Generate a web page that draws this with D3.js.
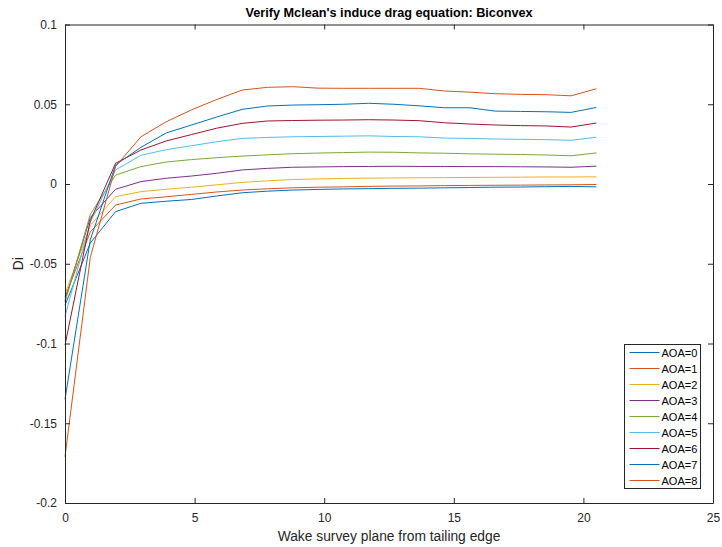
<!DOCTYPE html>
<html>
<head>
<meta charset="utf-8">
<script src="https://cdn.jsdelivr.net/npm/d3@7"></script>
<style>
  html, body { margin: 0; padding: 0; background: #fff; }
  svg { display: block; font-family: "Liberation Sans", Arial, sans-serif; }
</style>
</head>
<body>
<svg id="chart" width="722" height="547"></svg>
<script>
// Wake survey stations (distance behind trailing edge)
const xStations = [0, 0.976, 1.952, 2.929, 3.905, 4.881, 5.857, 6.833, 7.810, 8.786, 9.762,
  10.738, 11.714, 12.690, 13.667, 14.643, 15.619, 16.595, 17.571, 18.548, 19.524, 20.5];

const seriesNames = ["AOA=0", "AOA=1", "AOA=2", "AOA=3", "AOA=4", "AOA=5", "AOA=6", "AOA=7", "AOA=8"];

// Induced drag Di at each station, one array per angle of attack
const aoa0 = [-0.076, -0.037, -0.0173, -0.0121, -0.0108, -0.0097, -0.0075, -0.0055, -0.0045, -0.0038, -0.0034,
  -0.0031, -0.0029, -0.0027, -0.0026, -0.0024, -0.0022, -0.0020, -0.0019, -0.0017, -0.0015, -0.0018];
const aoa1 = [-0.071, -0.030, -0.0132, -0.0094, -0.0080, -0.0065, -0.0050, -0.0038, -0.0030, -0.0024, -0.0020,
  -0.0018, -0.0015, -0.0013, -0.0012, -0.0010, -0.0009, -0.0008, -0.0007, -0.0006, -0.0005, -0.0003];
const aoa2 = [-0.069, -0.026, -0.0079, -0.0048, -0.0033, -0.0020, -0.0005, 0.0010, 0.0020, 0.0028, 0.0032,
  0.0035, 0.0037, 0.0038, 0.0039, 0.0040, 0.0041, 0.0042, 0.0043, 0.0044, 0.0044, 0.0045];
const aoa3 = [-0.073, -0.021, -0.0033, 0.0015, 0.0036, 0.0050, 0.0067, 0.0088, 0.0098, 0.0105, 0.0107,
  0.0109, 0.0110, 0.0111, 0.0110, 0.0110, 0.0109, 0.0109, 0.0108, 0.0107, 0.0105, 0.0112];
const aoa4 = [-0.074, -0.019, 0.0056, 0.0109, 0.0138, 0.0153, 0.0165, 0.0175, 0.0183, 0.0190, 0.0194,
  0.0197, 0.0200, 0.0199, 0.0195, 0.0193, 0.0189, 0.0187, 0.0185, 0.0182, 0.0177, 0.0195];
const aoa5 = [-0.083, -0.024, 0.0088, 0.0180, 0.0215, 0.0240, 0.0265, 0.0286, 0.0292, 0.0296, 0.0298,
  0.0300, 0.0302, 0.0298, 0.0296, 0.0288, 0.0286, 0.0282, 0.0280, 0.0278, 0.0274, 0.0293];
const aoa6 = [-0.101, -0.023, 0.0130, 0.0213, 0.0270, 0.0310, 0.0350, 0.0380, 0.0395, 0.0398, 0.0400,
  0.0401, 0.0403, 0.0401, 0.0397, 0.0384, 0.0376, 0.0370, 0.0366, 0.0364, 0.0357, 0.0382];
const aoa7 = [-0.135, -0.035, 0.0120, 0.0230, 0.0320, 0.0370, 0.0420, 0.0468, 0.0489, 0.0495, 0.0497,
  0.0500, 0.0506, 0.0500, 0.0490, 0.0478, 0.0478, 0.0457, 0.0455, 0.0453, 0.0449, 0.0480];
const aoa8 = [-0.171, -0.046, 0.0110, 0.0296, 0.0390, 0.0465, 0.0530, 0.0589, 0.0606, 0.0610, 0.0601,
  0.0600, 0.0600, 0.0600, 0.0600, 0.0583, 0.0576, 0.0566, 0.0562, 0.0560, 0.0553, 0.0597];

const xTicks = [0, 5, 10, 15, 20, 25];
const yTicks = [-0.2, -0.15, -0.1, -0.05, 0, 0.05, 0.1];

const seriesColors = ["#0072BD", "#D95319", "#EDB120", "#7E2F8E", "#77AC30", "#4DBEEE", "#A2142F", "#0072BD", "#D95319"];

const allValues = [aoa0, aoa1, aoa2, aoa3, aoa4, aoa5, aoa6, aoa7, aoa8];
const series = seriesNames.map((name, k) => ({
  name,
  color: seriesColors[k],
  points: xStations.map((x, i) => ({ x, y: allValues[k][i] }))
}));

const svg = d3.select("#chart");
const margin = { left: 65, right: 9, top: 24.5, bottom: 44 };
const W = 722, H = 547;
const x0 = margin.left, x1 = W - margin.right;
const y0 = margin.top, y1 = H - margin.bottom;

const x = d3.scaleLinear().domain([0, 25]).range([x0, x1]);
const y = d3.scaleLinear().domain([-0.2, 0.1]).range([y1, y0]);

const axisColor = "#262626";
const fmt = d => (d === 0 ? "0" : String(+d.toFixed(2)));

// plot background
svg.append("rect").attr("x", x0).attr("y", y0).attr("width", x1 - x0).attr("height", y1 - y0)
  .attr("fill", "#fff");

// data lines
const line = d3.line().x(d => x(d.x)).y(d => y(d.y));
svg.append("g").selectAll("path").data(series).join("path")
  .attr("d", d => line(d.points))
  .attr("fill", "none")
  .attr("stroke", d => d.color)
  .attr("stroke-width", 1);

// axes with inward ticks, mirrored on top and right
function styleAxis(g) {
  g.select(".domain").attr("stroke", axisColor);
  g.selectAll(".tick line").attr("stroke", axisColor);
  g.selectAll(".tick text").attr("fill", axisColor).attr("font-size", 12)
    .attr("font-family", "Liberation Sans, Arial, sans-serif");
}

svg.append("g").attr("transform", `translate(0,${y1})`)
  .call(d3.axisBottom(x).tickValues(xTicks).tickFormat(fmt).tickSizeInner(-5).tickSizeOuter(0).tickPadding(10))
  .call(styleAxis);
svg.append("g").attr("transform", `translate(0,${y0})`)
  .call(d3.axisTop(x).tickValues(xTicks).tickFormat("").tickSizeInner(-5).tickSizeOuter(0))
  .call(styleAxis);
svg.append("g").attr("transform", `translate(${x0},0)`)
  .call(d3.axisLeft(y).tickValues(yTicks).tickFormat(fmt).tickSizeInner(-5).tickSizeOuter(0).tickPadding(8))
  .call(styleAxis);
svg.append("g").attr("transform", `translate(${x1},0)`)
  .call(d3.axisRight(y).tickValues(yTicks).tickFormat("").tickSizeInner(-5).tickSizeOuter(0))
  .call(styleAxis);

// titles
svg.append("text").attr("x", (x0 + x1) / 2).attr("y", 16.5).attr("text-anchor", "middle")
  .attr("font-size", 12.7).attr("font-weight", "bold").attr("fill", "#000")
  .text("Verify Mclean's induce drag equation: Biconvex");
svg.append("text").attr("x", (x0 + x1) / 2).attr("y", 541).attr("text-anchor", "middle")
  .attr("font-size", 13.8).attr("fill", axisColor)
  .text("Wake survey plane from tailing edge");
svg.append("text").attr("transform", `translate(23,${(y0 + y1) / 2}) rotate(-90)`)
  .attr("text-anchor", "middle").attr("font-size", 13.8).attr("fill", axisColor)
  .text("Di");

// legend
const lg = { x: 624.5, y: 344.5, w: 76, h: 144, row: 16 };
const legend = svg.append("g");
legend.append("rect").attr("x", lg.x).attr("y", lg.y).attr("width", lg.w).attr("height", lg.h)
  .attr("fill", "#fff").attr("stroke", axisColor).attr("stroke-width", 1);
const items = legend.selectAll("g.item").data(series).join("g")
  .attr("transform", (d, i) => `translate(${lg.x},${lg.y + 8 + i * lg.row})`);
items.append("line").attr("x1", 5).attr("x2", 35).attr("y1", 0).attr("y2", 0)
  .attr("stroke", d => d.color).attr("stroke-width", 1);
items.append("text").attr("x", 37).attr("y", 4).attr("font-size", 11).attr("fill", "#000")
  .text(d => d.name);
</script>
</body>
</html>
